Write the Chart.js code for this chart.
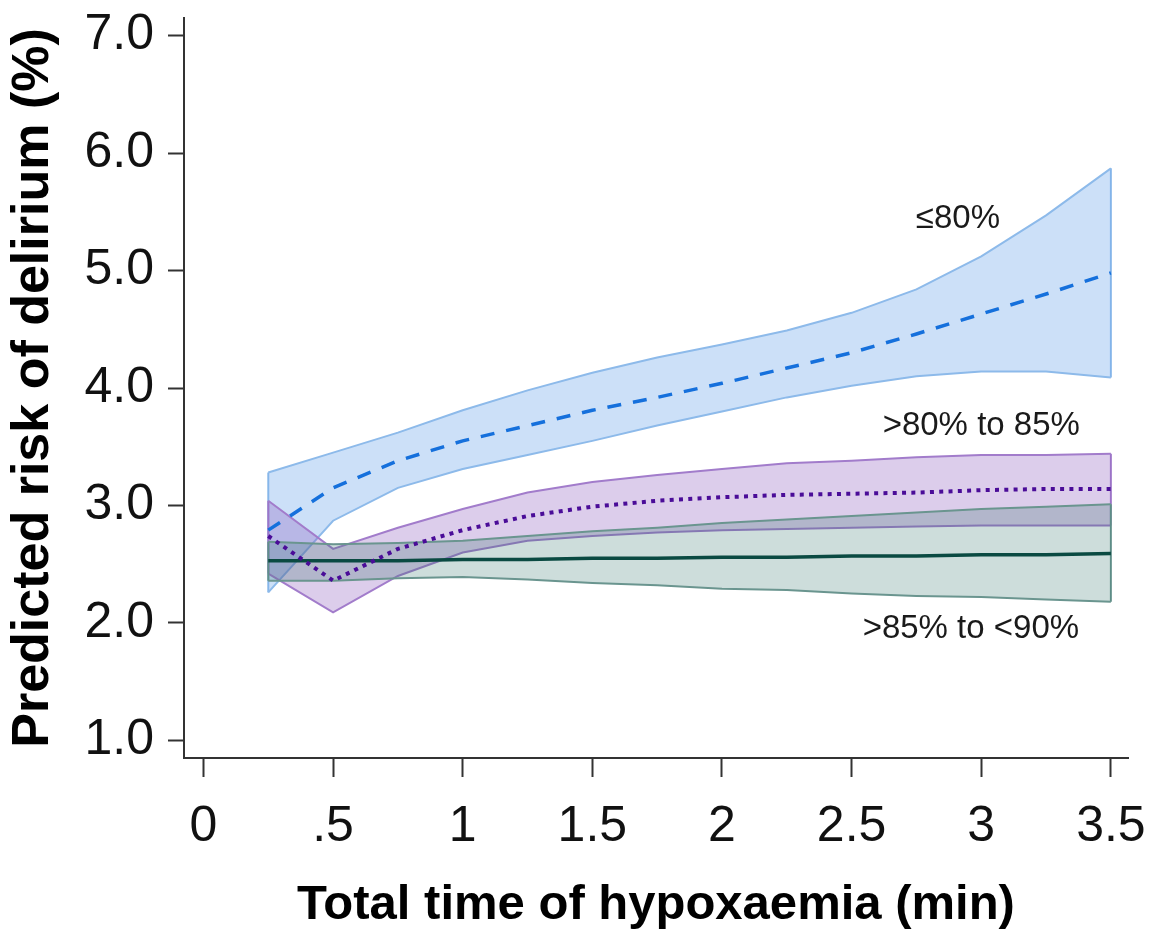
<!DOCTYPE html>
<html>
<head>
<meta charset="utf-8">
<script src="https://cdn.jsdelivr.net/npm/chart.js@4.4.1/dist/chart.umd.min.js"></script>
<style>
  html, body { margin: 0; padding: 0; background: #fff; }
</style>
</head>
<body>
<canvas id="riskChart" width="1150" height="936"></canvas>
<script>
// time points (min)
const timeMin = [0.25, 0.5, 0.75, 1, 1.25, 1.5, 1.75, 2, 2.25, 2.5, 2.75, 3, 3.25, 3.5];

// SpO2 <=80%
const le80Upper = [3.28, 3.45, 3.62, 3.81, 3.98, 4.13, 4.26, 4.37, 4.49, 4.64, 4.84, 5.12, 5.47, 5.87];
const le80Mean  = [2.79, 3.15, 3.38, 3.55, 3.68, 3.81, 3.92, 4.04, 4.17, 4.30, 4.46, 4.63, 4.80, 4.98];
const le80Lower = [2.26, 2.87, 3.15, 3.31, 3.43, 3.55, 3.68, 3.80, 3.92, 4.02, 4.10, 4.14, 4.14, 4.09];

// SpO2 >80% to 85%
const p80to85Upper = [3.04, 2.63, 2.81, 2.97, 3.11, 3.20, 3.26, 3.31, 3.36, 3.38, 3.41, 3.43, 3.43, 3.44];
const p80to85Mean  = [2.74, 2.36, 2.63, 2.79, 2.91, 2.99, 3.04, 3.07, 3.09, 3.10, 3.11, 3.13, 3.14, 3.14];
const p80to85Lower = [2.42, 2.09, 2.40, 2.60, 2.70, 2.74, 2.77, 2.79, 2.80, 2.81, 2.82, 2.83, 2.83, 2.83];

// SpO2 >85% to <90%
const p85to90Upper = [2.69, 2.67, 2.68, 2.70, 2.74, 2.78, 2.81, 2.85, 2.88, 2.91, 2.94, 2.97, 2.99, 3.01];
const p85to90Mean  = [2.53, 2.53, 2.53, 2.54, 2.54, 2.55, 2.55, 2.56, 2.56, 2.57, 2.57, 2.58, 2.58, 2.59];
const p85to90Lower = [2.36, 2.36, 2.38, 2.39, 2.37, 2.34, 2.32, 2.29, 2.28, 2.25, 2.23, 2.22, 2.20, 2.18];

// axis ticks
const xTicks = [0, 0.5, 1, 1.5, 2, 2.5, 3, 3.5];
const xTickLabels = ['0', '.5', '1', '1.5', '2', '2.5', '3', '3.5'];
const yTicks = [1, 2, 3, 4, 5, 6, 7];
const yTickLabels = ['1.0', '2.0', '3.0', '4.0', '5.0', '6.0', '7.0'];

// curve labels (data coords)
const labelText = ['\u226480%', '>80% to 85%', '>85% to <90%'];
const labelX = [2.91, 3.0, 2.96];
const labelY = [5.44, 3.68, 1.95];

const FONT = "'Liberation Sans', Arial, Helvetica, sans-serif";

function pts(ys) {
  return timeMin.map((x, i) => ({ x: x, y: ys[i] }));
}

// upper edge, lower edge filled to it, and the two vertical end edges
function band(upper, lower, edge, fillColor, order) {
  const n = timeMin.length - 1;
  const ends = [
    { x: timeMin[0], y: upper[0] }, { x: timeMin[0], y: lower[0] },
    { x: timeMin[n], y: null },
    { x: timeMin[n], y: lower[n] }, { x: timeMin[n], y: upper[n] }
  ];
  const common = { borderColor: edge, borderWidth: 2, pointRadius: 0, tension: 0, order: order };
  return [
    Object.assign({ data: pts(upper), fill: false }, common),
    Object.assign({ data: pts(lower), fill: '-1', backgroundColor: fillColor }, common),
    Object.assign({ data: ends, fill: false, spanGaps: false }, common)
  ];
}

const curveLabels = {
  id: 'curveLabels',
  afterDatasetsDraw(chart) {
    const ctx = chart.ctx;
    const xs = chart.scales.x, ys = chart.scales.y;
    ctx.save();
    ctx.font = '33px ' + FONT;
    ctx.fillStyle = '#1a1a1a';
    ctx.textAlign = 'center';
    ctx.textBaseline = 'middle';
    labelText.forEach((t, i) => {
      ctx.fillText(t, xs.getPixelForValue(labelX[i]), ys.getPixelForValue(labelY[i]));
    });
    ctx.restore();
  }
};

const datasets = [].concat(
  band(le80Upper, le80Lower, '#8dbaea', 'rgba(110,165,235,0.35)', 30),
  band(p80to85Upper, p80to85Lower, '#a27ccb', 'rgba(140,90,190,0.30)', 20),
  band(p85to90Upper, p85to90Lower, '#6a958f', 'rgba(40,110,100,0.23)', 10),
  [
    { data: pts(le80Mean), borderColor: '#1570dc', borderWidth: 3.5, borderDash: [14, 12],
      pointRadius: 0, fill: false, tension: 0, order: 0 },
    { data: pts(p80to85Mean), borderColor: '#4a0c98', borderWidth: 4, borderDash: [4, 5.3],
      pointRadius: 0, fill: false, tension: 0, order: 0 },
    { data: pts(p85to90Mean), borderColor: '#0a4a42', borderWidth: 3.5,
      pointRadius: 0, fill: false, tension: 0, order: 0 }
  ]
);

new Chart(document.getElementById('riskChart').getContext('2d'), {
  type: 'line',
  data: { datasets: datasets },
  plugins: [curveLabels],
  options: {
    responsive: false,
    animation: false,
    layout: { padding: { top: 18, right: 22, left: 0, bottom: 0 } },
    plugins: { legend: { display: false }, tooltip: { enabled: false } },
    scales: {
      x: {
        type: 'linear',
        min: -0.075,
        max: 3.566,
        afterBuildTicks: s => { s.ticks = xTicks.map(v => ({ value: v })); },
        afterFit: s => { s.height = 178; s.paddingLeft = 0; s.paddingRight = 0; },
        grid: { drawOnChartArea: false, tickLength: 19, tickWidth: 2, tickColor: '#333' },
        border: { display: true, color: '#333', width: 2 },
        ticks: {
          padding: 20,
          maxRotation: 0,
          autoSkip: false,
          color: '#111',
          font: { family: FONT, size: 50 },
          callback: (v, i) => xTickLabels[i]
        },
        title: {
          display: true,
          text: 'Total time of hypoxaemia (min)',
          color: '#000',
          font: { family: FONT, size: 49, weight: 'bold' },
          padding: { top: 0, bottom: 1 }
        }
      },
      y: {
        min: 0.85,
        max: 7.15,
        afterBuildTicks: s => { s.ticks = yTicks.map(v => ({ value: v })); },
        afterFit: s => { s.width = 184; s.paddingTop = 0; s.paddingBottom = 0; },
        grid: { drawOnChartArea: false, tickLength: 16, tickWidth: 2, tickColor: '#333' },
        border: { display: true, color: '#333', width: 2 },
        ticks: {
          padding: 14,
          autoSkip: false,
          color: '#111',
          font: { family: FONT, size: 50 },
          callback: (v, i) => yTickLabels[i]
        },
        title: {
          display: true,
          text: 'Predicted risk of delirium (%)',
          color: '#000',
          font: { family: FONT, size: 52, weight: 'bold' },
          padding: { top: 2, bottom: 0 }
        }
      }
    }
  }
});
</script>
</body>
</html>
